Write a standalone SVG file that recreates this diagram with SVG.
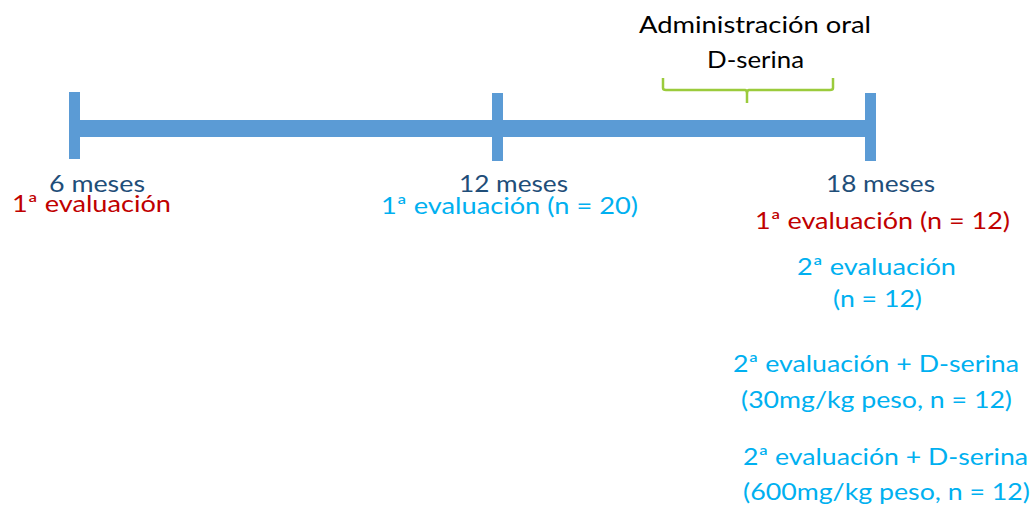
<svg xmlns="http://www.w3.org/2000/svg" width="1032" height="506" viewBox="0 0 1032 506">
<style>
text{font-family:Lato,"Open Sans","Liberation Sans",sans-serif;font-size:24px}
.bar{fill:#5B9BD5}
.dark{fill:#1F4E79}
.red{fill:#C00000}
.cyan{fill:#00B0F0}
.blk{fill:#000}
.brace{fill:none;stroke:#9BCB3C;stroke-width:2.5;stroke-linejoin:round}
</style>
<rect width="1032" height="506" fill="#fff"/>
<g id="connectors">
<rect class="bar" x="80" y="120" width="786" height="17"/>
<path class="brace" d="M663,78 L663,88 Q663,90 666,90 L745,90 Q747,90 747,94 L747,103 M747,94 Q747,90 749,90 L830,90 Q833,90 833,88 L833,78"/>
</g>
<g id="note-dserina">
<text class="blk" x="639" y="33" textLength="232" lengthAdjust="spacingAndGlyphs">Administración oral</text>
<text class="blk" x="707" y="68" textLength="97" lengthAdjust="spacingAndGlyphs">D-serina</text>
</g>
<g id="t6">
<rect class="bar" x="69" y="92" width="11" height="67"/>
<text class="dark" x="49" y="192" textLength="96" lengthAdjust="spacingAndGlyphs">6 meses</text>
<text class="red" x="12" y="212" textLength="159" lengthAdjust="spacingAndGlyphs">1ª evaluación</text>
</g>
<g id="t12">
<rect class="bar" x="492" y="93" width="11" height="68"/>
<text class="dark" x="459" y="192" textLength="109" lengthAdjust="spacingAndGlyphs">12 meses</text>
<text class="cyan" x="381" y="214" textLength="257" lengthAdjust="spacingAndGlyphs">1ª evaluación (n = 20)</text>
</g>
<g id="t18">
<rect class="bar" x="865" y="93" width="11" height="68"/>
<text class="dark" x="826" y="192" textLength="109" lengthAdjust="spacingAndGlyphs">18 meses</text>
<text class="red" x="755" y="229" textLength="255" lengthAdjust="spacingAndGlyphs">1ª evaluación (n = 12)</text>
</g>
<g id="grp-control">
<text class="cyan" x="797" y="275" textLength="159" lengthAdjust="spacingAndGlyphs">2ª evaluación</text>
<text class="cyan" x="833" y="307" textLength="89" lengthAdjust="spacingAndGlyphs">(n = 12)</text>
</g>
<g id="grp-30">
<text class="cyan" x="733" y="372" textLength="286" lengthAdjust="spacingAndGlyphs">2ª evaluación + D-serina</text>
<text class="cyan" x="741" y="408" textLength="271" lengthAdjust="spacingAndGlyphs">(30mg/kg peso, n = 12)</text>
</g>
<g id="grp-600">
<text class="cyan" x="743" y="465" textLength="285" lengthAdjust="spacingAndGlyphs">2ª evaluación + D-serina</text>
<text class="cyan" x="743" y="500" textLength="287" lengthAdjust="spacingAndGlyphs">(600mg/kg peso, n = 12)</text>
</g>
</svg>
